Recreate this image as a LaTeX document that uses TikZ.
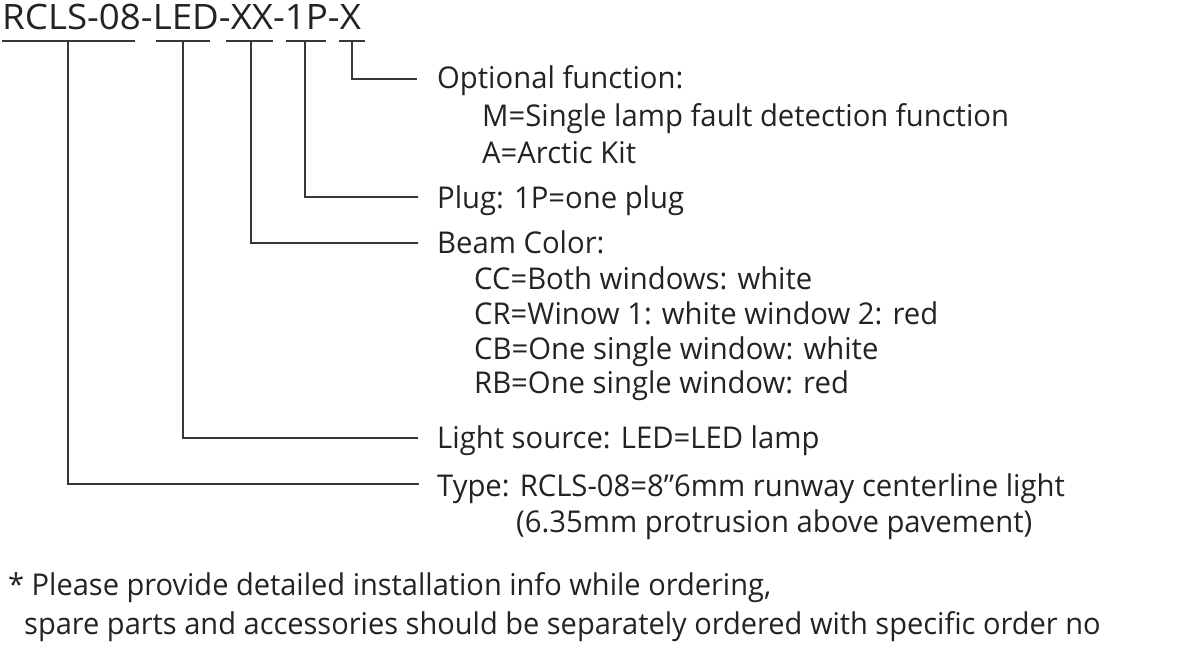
\documentclass[tikz,border=0pt]{standalone}
\usepackage{fontspec}
\setmainfont{Open Sans}[FakeStretch=0.975]
\newfontfamily\notefont{Open Sans}[FakeStretch=0.967]
\newfontfamily\titlefont{Open Sans}[FakeStretch=1.048]
\definecolor{ln}{RGB}{55,55,55}
\definecolor{tx}{RGB}{35,35,35}
\begin{document}
\begin{tikzpicture}[x=1pt,y=-1pt,
  lbl/.style={anchor=base west,inner sep=0pt,text=tx,font=\fontsize{30}{36}\selectfont},
  ttl/.style={anchor=base west,inner sep=0pt,text=tx,font=\titlefont\fontsize{35}{42}\selectfont},
  note/.style={anchor=base west,inner sep=0pt,text=tx,font=\notefont\fontsize{30}{36}\selectfont},
  wire/.style={draw=ln,line width=1.8pt}]
\useasboundingbox (0,0) rectangle (1200,645);
\node[ttl] (title) at (2,30) {RCLS-08-LED-XX-1P-X};
% underlines
\draw[wire] (2,40.7) -- (135,40.7);
\draw[wire] (156,40.7) -- (210,40.7);
\draw[wire] (226,40.7) -- (273,40.7);
\draw[wire] (286,40.7) -- (326,40.7);
\draw[wire] (339,40.7) -- (365,40.7);
% labels
\node[lbl] (opt) at (437,88) {Optional function:};
\node[lbl] (optm) at (482,126) {M=Single lamp fault detection function};
\node[lbl] (opta) at (482,163) {A=Arctic Kit};
\node[lbl] (plug) at (437,208) {Plug: 1P=one plug};
\node[lbl] (beam) at (437,253) {Beam Color:};
\node[lbl] (cc) at (474,289) {CC=Both windows: white};
\node[lbl] (cr) at (474,324) {CR=Winow 1: white window 2: red};
\node[lbl] (cb) at (474,359) {CB=One single window: white};
\node[lbl] (rb) at (474,393) {RB=One single window: red};
\node[lbl] (light) at (437,448) {Light source: LED=LED lamp};
\node[lbl] (type) at (437,496) {Type: RCLS-08=8"6mm runway centerline light};
\node[lbl] (type2) at (516,532) {(6.35mm protrusion above pavement)};
\node[note] (n1) at (8,595) {* Please provide detailed installation info while ordering,};
\node[note] (n2) at (24,634) {spare parts and accessories should be separately ordered with specific order no};
% connectors
\coordinate (cx) at (352,40.7);
\coordinate (cp) at (305,40.7);
\coordinate (cc0) at (251,40.7);
\coordinate (cl) at (183,40.7);
\coordinate (ct) at (68,40.7);
\draw[wire] (cx) |- (417,79) coordinate (ex);
\draw[wire] (cp) |- (418,197) coordinate (ep);
\draw[wire] (cc0) |- (418,243) coordinate (eb);
\draw[wire] (cl) |- (418,438) coordinate (el);
\draw[wire] (ct) |- (419,484) coordinate (et);
\end{tikzpicture}
\end{document}
